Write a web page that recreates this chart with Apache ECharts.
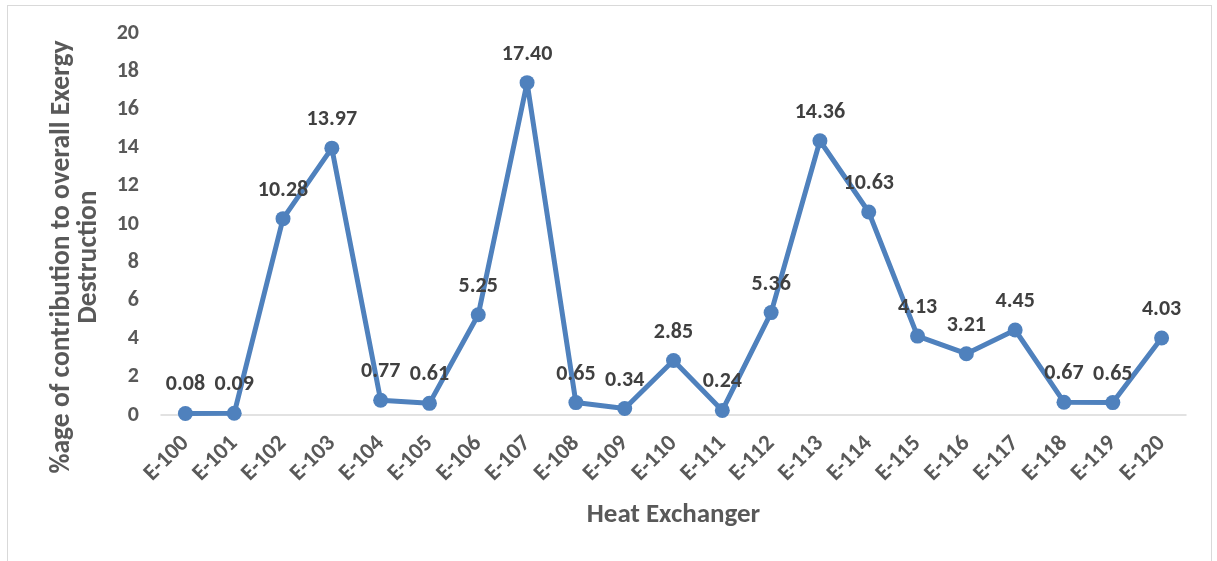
<!DOCTYPE html>
<html>
<head>
<meta charset="utf-8">
<script src="https://cdn.jsdelivr.net/npm/echarts@6/dist/echarts.min.js"></script>
<style>
  html, body { margin: 0; padding: 0; background: #fff; }
  #frame { position: absolute; left: 7px; top: 5px; width: 1205px; height: 560px; border: 1px solid #d9d9d9; border-bottom: none; box-sizing: border-box; }
  #chart { width: 1217px; height: 561px; position: absolute; left: 0; top: 0; }
</style>
</head>
<body>
<div id="frame"></div>
<div id="chart"></div>
<script>
// Heat exchanger tags and their share of total exergy destruction (%)
const exchangers = ['E-100','E-101','E-102','E-103','E-104','E-105','E-106','E-107','E-108','E-109','E-110',
                    'E-111','E-112','E-113','E-114','E-115','E-116','E-117','E-118','E-119','E-120'];
const contribution = [0.08, 0.09, 10.28, 13.97, 0.77, 0.61, 5.25, 17.40, 0.65, 0.34, 2.85,
                      0.24, 5.36, 14.36, 10.63, 4.13, 3.21, 4.45, 0.67, 0.65, 4.03];
const yTicks = { min: 0, max: 20, step: 2 };

const chart = echarts.init(document.getElementById('chart'));
const fontFam = 'Calibri, Carlito, "Open Sans", "Noto Sans", sans-serif';
chart.setOption({
  animation: false,
  grid: { left: 161, right: 31, top: 33, bottom: 146, containLabel: false, outerBoundsMode: 'none' },
  xAxis: {
    type: 'category',
    data: exchangers,
    boundaryGap: true,
    axisLine: { lineStyle: { color: '#d9d9d9', width: 1.5 } },
    axisTick: { show: false },
    axisLabel: { rotate: 45, color: '#595959', fontWeight: 'bold', fontSize: 23, fontFamily: fontFam, margin: 25, interval: 0 },
    name: 'Heat Exchanger',
    nameLocation: 'middle',
    nameGap: 87,
    nameTextStyle: { color: '#595959', fontWeight: 'bold', fontSize: 27, fontFamily: fontFam }
  },
  yAxis: {
    type: 'value',
    min: yTicks.min, max: yTicks.max, interval: yTicks.step,
    splitLine: { show: false },
    axisLine: { show: false },
    axisTick: { show: false },
    axisLabel: { color: '#595959', fontWeight: 'bold', fontSize: 22, fontFamily: fontFam, margin: 22 },
    name: '%age of contribution to overall Exergy\nDestruction',
    nameLocation: 'middle',
    nameGap: 58,
    nameTextStyle: { color: '#595959', fontWeight: 'bold', fontSize: 27.5, fontFamily: fontFam, lineHeight: 27, padding: [0, 66, 0, 0] }
  },
  series: [{
    type: 'line',
    data: contribution,
    symbol: 'circle',
    symbolSize: 15,
    lineStyle: { color: '#4f81bd', width: 5 },
    itemStyle: { color: '#4f81bd' },
    label: {
      show: true,
      position: 'top',
      distance: 10,
      color: '#404040',
      fontWeight: 'bold',
      fontSize: 22,
      fontFamily: fontFam,
      formatter: p => p.value.toFixed(2)
    }
  }]
});
</script>
</body>
</html>
